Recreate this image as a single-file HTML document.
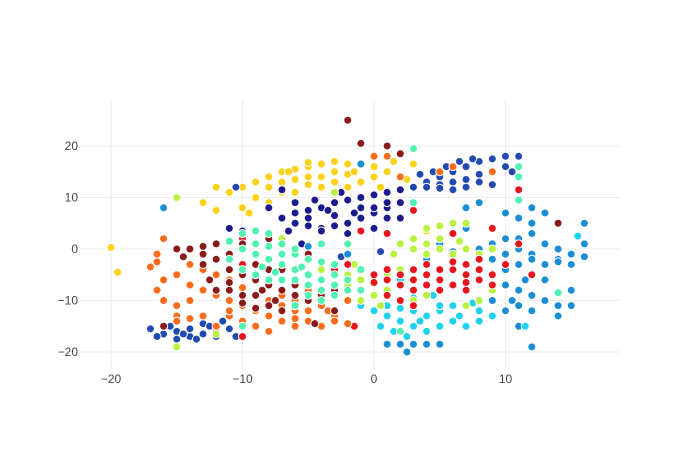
<!DOCTYPE html>
<html><head><meta charset="utf-8"><style>
body{margin:0;background:#fff}
svg text{font-family:"Liberation Sans",sans-serif;font-size:12px;fill:#444}
</style></head><body>
<svg id="chart" width="700" height="450" xmlns="http://www.w3.org/2000/svg">
<rect width="700" height="450" fill="#fff"/>
<g id="grid"></g>
<g id="pts"></g>
<g id="ticks"></g>
</svg>
<script>
const xTicks=[-20,-10,0,10];
const yTicks=[-20,-10,0,10,20];
const clusterNames=["yellow","navy","darkblue","lightblue","cyan","lime","red","orange","maroon","aquamarine"];
const clusterColors=["#fcd116","#1a1a8c","#2249b0","#1a8ed4","#1ed2ef","#b9f240","#e8141c","#fb6b1c","#8a1a1a","#4ff2b0"];
const yellow=[[-10,12],[-9,13],[-8,14],[-7,15],[-6,15.5],[-5,16],[-4,16.5],[-3,17],[-2,16.5],[-1,16.5],[0,16],[-8,12],[-7,13],[-6,13.5],[-5,14],[-4,14],[-3,13],[-2,12],[-1,13],[0,14],[1,15],[1.5,17],[-9,10],[-8,9],[-10,8],[-12,12],[-11,11],[-6,11],[-5,12.5],[-3,15],[-7,11],[-4,12],[-9.5,7],[-13,9],[-20,0.3],[-19.5,-4.5],[-5,16.8],[-2,14.5],[0.5,12],[-1.5,15],[-6.5,15],[3,16.5],[2.5,13.5],[4,3.5],[-12,7.5]];
const navy=[[-7,6],[-6,7],[-5,7.5],[-4,8],[-3,9],[-2,9.5],[-1,10],[0,10.5],[1,11],[2,11.5],[-6,5],[-5,4.5],[-4,4],[-3,4.5],[-2,5],[-1,6],[0,7],[1,8],[2,9],[-5,6],[-3,6.5],[-1,8],[0,4],[-2,3],[-4,3.5],[1,6],[-6,9],[-4.5,9.5],[-2.5,11],[1,9],[0,8],[-3.5,7.5],[-1.5,7],[-8,8],[-10,3.5],[-11,4],[-1,3.5],[2,6],[-6.5,3.5],[-5.5,1],[-7,11.5]];
const darkblue=[[4,13],[5,14],[6,15],[7,16],[8,17],[9,17.5],[10,18],[11,18],[4,12],[5,12.5],[6,13],[7,13.5],[8,14.5],[9,15],[10,16],[4.5,15],[5.5,16],[6.5,17],[7.5,17.5],[9,12.5],[3,12],[7,12],[5,11.8],[8,13],[6,11.5],[10.5,15],[3.5,14.5],[-17,-15.5],[-16,-16.5],[-15,-16],[-14,-17],[-13,-16.5],[-12,-16],[-11,-15.5],[-16.5,-17],[-15.5,-15],[-14,-15.5],[-13,-14.5],[-12,-17],[-11.5,-14],[-10.5,-17],[-14.5,-16.5],[-13.5,-17.5],[-12.5,-15],[-16,-15],[-11,-13],[-10,-14.5],[-15,-17.5],[-10.5,12],[0.5,-0.5],[-2.5,-1.5]];
const lightblue=[[6,5],[7,8],[8,9],[10,7],[11,6],[12,5],[12,3],[13,1],[14,0],[15,-1],[9,4],[10,2],[11,0],[12,-1],[13,-3],[14,-2],[15,-3],[16,-1.5],[9,-2],[10,-4],[11,-3],[12,-5],[13,-6],[10,-7],[11,-8],[12,-9],[13,-10],[14,-11],[9,-10],[10,-12],[11,-11],[12,-12],[14,-13],[15,-8],[16,1],[16,5],[13,7],[12,8],[7,4],[5,1],[4,-2],[8,0],[9,1],[10,-1],[11,2],[12,-2],[8,-2],[15,-11],[11,-15],[12,-19],[14,-2.5],[11.5,-6],[10.5,-10],[-16,8],[-1,16.5],[6,-0.5],[1,-18.5],[2,-18.5],[3,-18.5],[4,-18.5],[5,-18.5],[2.5,-20],[-2,-1],[-5,0.5]];
const cyan=[[0,-12],[1,-13],[2,-14],[3,-15],[4,-13],[5,-15],[6,-14],[7,-15],[8,-14],[0.5,-15],[1.5,-16],[2.5,-17],[3,-12],[4,-16],[5,-12],[6,-11],[7,-11],[3.5,-14],[1,-11],[2,-11.5],[6.5,-13],[0,-9],[4,-7],[2,-6],[1,-4],[3,-8],[5,-11],[-1,-11],[8,-12],[9,-13],[7.5,-10.5],[4.5,-9],[11.5,-15],[15.5,2.5],[3,-9.5]];
const lime=[[-2,-7],[-1,-8],[0,-9],[1,-8],[2,-10],[3,-10],[4,-9],[-1,-6],[0,-6],[1,-5],[2,-4],[-2,-5],[-1,-10],[0.5,-11],[3,0],[4,1],[5,2],[6,3],[7,5],[5,0],[6,-1],[7,0],[4,-1],[3,2],[2,1],[8,-1],[9,0],[6,5],[-3,-3],[-4,-4],[-5,-8],[7,-11],[8,-10],[9,-8],[4,4],[5,4.5],[-3,11],[-15,10],[-7,2],[-15,-19],[-12,-16.5],[1.5,-1],[6.5,1.5],[-1.5,-3]];
const red=[[-1,-4],[0,-5],[1,-4],[2,-5],[3,-4],[4,-5],[5,-6],[6,-4],[7,-5],[8,-6],[9,-5],[0,-6.5],[1,-6],[2,-7],[3,-6],[5,-4],[6,-7],[7,-8],[8,-4],[4,-7],[3,-8],[9,-7],[10,-3],[8,-2],[1,-9],[6,-2.5],[7,-3],[5,-8],[4,-3],[2,-10],[3,-11],[-1.5,-15],[-10,-17],[6,3],[9,4],[11,1],[12,-5],[11,11.5],[-2,-3],[-3,-4],[-10,2],[-10,-3],[-9,1],[7,-6.5],[3,7.5],[1,3],[-1,3.5]];
const orange=[[-17,-3.5],[-16,-6],[-16.5,-8],[-15,-11],[-14,-10],[-14,-7],[-13,-8],[-12,-9],[-11,-10],[-10,-11],[-9,-12],[-8,-13],[-7,-14],[-6,-15],[-5,-14],[-4,-15],[-3,-13],[-8,-10],[-7,-11],[-6,-12],[-5,-12],[-4,-11],[-13,-4],[-12,-5],[-11,-6],[-14,-3],[-15,-5],[-16,-10],[-15,-13],[-16.5,-1],[-16,2],[-12,-15],[-13,-13],[-11,-13],[-10,-7.5],[-9,-9],[-6,-10],[-5,-8],[-10,-14],[-11,-12],[-9,-15],[-3,-14],[-2,-14.5],[-8,-16],[-3.5,-12],[-4,-6],[-2,-10],[0,18],[1,18],[5,15],[6,16],[9,15],[2,14],[-16.5,-2.5],[-12,-2],[-14,-13.5],[-15,-14],[-7,-9],[-6,-13.5]];
const maroon=[[-14,0],[-13,-1],[-12,-2],[-11,-4],[-10,-5],[-9,-6],[-8,-7],[-7,-8],[-6,-9],[-5,-10],[-13,-3],[-12,-8],[-11,-8],[-10,-9],[-9,-9],[-8,-11],[-7,-12],[-6,-11],[-11,-1],[-12,1],[-13,0.5],[-10,0],[-9,-3],[-8,-4],[-7,-6],[-6,-7],[-9,-11.5],[-10,-10.5],[-11,-6.5],[-4,-9],[-3,-8],[-15,0],[-14.5,-1.5],[-10,1],[-8,2],[-5,-1],[-7,-4],[-3,-12],[-16,-15],[-2,25],[-1,20.5],[1,20],[2,18.5],[14,5],[-4.5,-14.5],[-8.5,-8],[-7.5,-10],[-12.5,-6]];
const aquamarine=[[-10,3],[-9,3.5],[-8,3],[-7,1],[-10,0],[-9,-1],[-8,-2],[-7,-3],[-6,-4],[-5,-5],[-4,-6],[-3,-7],[-2,-8],[-6,-1],[-5,-2],[-4,-2.5],[-3,-3],[-8,0.5],[-7,-1],[-6,-6],[-5,-7],[-4,-8],[-3,-9],[-11,-2],[-10,-4],[-9,-5],[-8,-6],[-9,1],[-6,0],[-5,-9],[-4,-10],[-6,-11],[-2,-6],[-1,-4],[-3,-5],[-11,1.5],[-7,-6],[-2,1],[-1,-8],[-4,1],[-10,-15],[3,19.5],[3,9],[11,14],[11,16],[11,9.5],[14,-8.5],[2,-16],[-7.5,-4.5],[-8.5,-3.5],[-5.5,-3.5]];
const clusters=[yellow,navy,darkblue,lightblue,cyan,lime,red,orange,maroon,aquamarine];

const NS="http://www.w3.org/2000/svg";
const X0=80,X1=620,Y0=100,Y1=370;
function sx(v){return 374+(v)*13.15;}
function sy(v){return 249-(v)*5.15;}
const grid=document.getElementById('grid'),ticks=document.getElementById('ticks'),pts=document.getElementById('pts');
xTicks.forEach(t=>{
  const l=document.createElementNS(NS,'line');
  
  
  l.setAttribute('x1',sx(t));l.setAttribute('x2',sx(t));l.setAttribute('y1',Y0);l.setAttribute('y2',Y1);
  l.setAttribute('stroke','#eee');grid.appendChild(l);
  const tx=document.createElementNS(NS,'text');
  
  
  tx.setAttribute('x',sx(t));tx.setAttribute('y',Y1+13);tx.setAttribute('text-anchor','middle');
  tx.textContent=t<0?'\u2212'+Math.abs(t):t;ticks.appendChild(tx);
});
yTicks.forEach(t=>{
  const l=document.createElementNS(NS,'line');
  
  
  l.setAttribute('x1',X0);l.setAttribute('x2',X1);l.setAttribute('y1',sy(t));l.setAttribute('y2',sy(t));
  l.setAttribute('stroke','#eee');grid.appendChild(l);
  const tx=document.createElementNS(NS,'text');
  
  
  tx.setAttribute('x',X0-2);tx.setAttribute('y',sy(t)+4);tx.setAttribute('text-anchor','end');
  tx.textContent=t<0?'\u2212'+Math.abs(t):t;ticks.appendChild(tx);
});
clusters.forEach((c,i)=>{
  c.forEach(p=>{
    const e=document.createElementNS(NS,'circle');
    
    
    e.setAttribute('cx',sx(p[0]));e.setAttribute('cy',sy(p[1]));e.setAttribute('r',4);
    e.setAttribute('fill',clusterColors[i]);e.setAttribute('stroke','#fff');e.setAttribute('stroke-width',1);
    pts.appendChild(e);
  });
});
</script>
</body></html>
